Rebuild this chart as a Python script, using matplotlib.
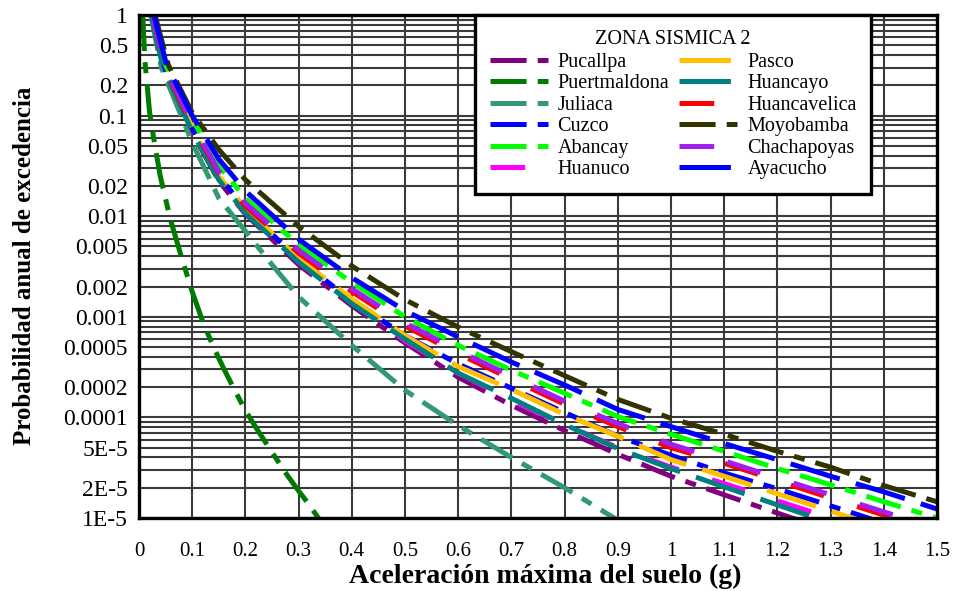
import matplotlib
matplotlib.use("Agg")
import matplotlib.pyplot as plt
import numpy as np
from matplotlib.ticker import FixedLocator, NullFormatter

plt.rcParams['font.family'] = ['Liberation Serif', 'DejaVu Serif']
plt.rcParams['lines.scale_dashes'] = False

# ---- hazard curves: peak ground acceleration (g) vs annual exceedance probability ----
x_pucallpa = [0.023, 0.044, 0.1, 0.15, 0.2, 0.3, 0.4, 0.5, 0.6, 0.7, 0.8, 0.9, 1.0, 1.1, 1.2, 1.3]
p_pucallpa = [1.0, 0.316, 0.068, 0.0224, 0.0105, 0.0033, 0.00129, 0.00055, 0.000251, 0.000132,
              7.4e-5, 4.3e-5, 2.6e-5, 1.7e-5, 1.12e-5, 7.4e-6]

x_puertmaldona = [0.007, 0.011, 0.02, 0.03, 0.04, 0.05, 0.06, 0.08, 0.1, 0.12, 0.14, 0.16, 0.18,
                  0.2, 0.22, 0.25, 0.28, 0.3, 0.32, 0.34]
p_puertmaldona = [1.0, 0.355, 0.107, 0.05, 0.025, 0.0148, 0.0089, 0.0039, 0.00178, 0.00089, 0.0005,
                  0.0003, 0.000186, 0.000117, 7.9e-5, 4.5e-5, 2.6e-5, 1.86e-5, 1.35e-5, 9.5e-6]

x_juliaca = [0.022, 0.042, 0.1, 0.15, 0.2, 0.25, 0.3, 0.4, 0.5, 0.6, 0.7, 0.8, 0.9]
p_juliaca = [1.0, 0.30, 0.054, 0.0151, 0.0071, 0.0033, 0.00158, 0.00052, 0.000186, 8.3e-5,
             4.0e-5, 2.0e-5, 9.5e-6]

x_cuzco = [0.024, 0.046, 0.1, 0.15, 0.2, 0.3, 0.4, 0.5, 0.6, 0.7, 0.8, 0.9, 1.0, 1.1, 1.2, 1.3, 1.4]
p_cuzco = [1.0, 0.316, 0.076, 0.025, 0.012, 0.0037, 0.00145, 0.00065, 0.00034, 0.000195,
           0.000112, 6.5e-5, 4.2e-5, 2.8e-5, 1.95e-5, 1.32e-5, 8.9e-6]

x_abancay = [0.027, 0.05, 0.1, 0.15, 0.2, 0.3, 0.4, 0.5, 0.6, 0.7, 0.8, 0.9, 1.0, 1.1, 1.2, 1.3, 1.4, 1.5]
p_abancay = [1.0, 0.316, 0.093, 0.0316, 0.0151, 0.0052, 0.0022, 0.001, 0.00052, 0.000295,
             0.000174, 0.000102, 6.8e-5, 4.6e-5, 3.1e-5, 2.14e-5, 1.45e-5, 1.0e-5]

x_huanuco = [0.024, 0.045, 0.1, 0.15, 0.2, 0.3, 0.4, 0.5, 0.6, 0.7, 0.8, 0.9, 1.0, 1.1, 1.2, 1.3, 1.4]
p_huanuco = [1.0, 0.316, 0.072, 0.024, 0.0112, 0.0035, 0.00138, 0.00058, 0.000275, 0.000148,
             8.5e-5, 5.0e-5, 3.2e-5, 2.2e-5, 1.48e-5, 1.0e-5, 6.8e-6]

x_pasco = [0.024, 0.046, 0.1, 0.15, 0.2, 0.3, 0.4, 0.5, 0.6, 0.7, 0.8, 0.9, 1.0, 1.1, 1.2, 1.3, 1.4]
p_pasco = [1.0, 0.316, 0.076, 0.025, 0.012, 0.0038, 0.00151, 0.00065, 0.00032, 0.00019,
           0.000107, 6.5e-5, 3.8e-5, 2.6e-5, 1.74e-5, 1.17e-5, 7.9e-6]

x_huancayo = [0.023, 0.044, 0.1, 0.15, 0.2, 0.3, 0.4, 0.5, 0.6, 0.7, 0.8, 0.9, 1.0, 1.1, 1.2, 1.3]
p_huancayo = [1.0, 0.316, 0.069, 0.023, 0.0107, 0.0035, 0.00135, 0.0006, 0.000275, 0.000155,
              8.5e-5, 4.9e-5, 3.1e-5, 2.04e-5, 1.35e-5, 8.9e-6]

x_huancavelica = [0.026, 0.048, 0.1, 0.15, 0.2, 0.3, 0.4, 0.5, 0.6, 0.7, 0.8, 0.9, 1.0, 1.1, 1.2, 1.3, 1.4, 1.5]
p_huancavelica = [1.0, 0.30, 0.079, 0.027, 0.0126, 0.0043, 0.00178, 0.00081, 0.00043, 0.00024,
                  0.000135, 8.1e-5, 5.0e-5, 3.5e-5, 2.35e-5, 1.58e-5, 1.07e-5, 7.4e-6]

x_moyobamba = [0.03, 0.055, 0.1, 0.15, 0.2, 0.3, 0.4, 0.5, 0.6, 0.7, 0.8, 0.9, 1.0, 1.1, 1.2, 1.3, 1.4, 1.5]
p_moyobamba = [1.0, 0.32, 0.107, 0.046, 0.023, 0.0079, 0.0032, 0.00148, 0.00079, 0.00045,
               0.00026, 0.000151, 9.8e-5, 6.8e-5, 4.6e-5, 3.2e-5, 2.1e-5, 1.45e-5]

x_chachapoyas = [0.026, 0.048, 0.1, 0.15, 0.2, 0.3, 0.4, 0.5, 0.6, 0.7, 0.8, 0.9, 1.0, 1.1, 1.2, 1.3, 1.4, 1.5]
p_chachapoyas = [1.0, 0.316, 0.083, 0.028, 0.0135, 0.0046, 0.0019, 0.00087, 0.00046, 0.000257,
                 0.000145, 8.7e-5, 5.4e-5, 3.7e-5, 2.5e-5, 1.7e-5, 1.15e-5, 7.9e-6]

x_ayacucho = [0.028, 0.052, 0.1, 0.15, 0.2, 0.3, 0.4, 0.5, 0.6, 0.7, 0.8, 0.9, 1.0, 1.1, 1.2, 1.3, 1.4, 1.5]
p_ayacucho = [1.0, 0.316, 0.1, 0.037, 0.0178, 0.0059, 0.00245, 0.00115, 0.00063, 0.000355,
              0.00021, 0.00012, 8.1e-5, 5.5e-5, 3.8e-5, 2.6e-5, 1.82e-5, 1.23e-5]

x_ticks = [0, 0.1, 0.2, 0.3, 0.4, 0.5, 0.6, 0.7, 0.8, 0.9, 1.0, 1.1, 1.2, 1.3, 1.4, 1.5]
x_tick_labels = ["0", "0.1", "0.2", "0.3", "0.4", "0.5", "0.6", "0.7", "0.8", "0.9",
                 "1", "1.1", "1.2", "1.3", "1.4", "1.5"]
y_ticks = [1, 0.5, 0.2, 0.1, 0.05, 0.02, 0.01, 0.005, 0.002, 0.001, 0.0005, 0.0002,
           0.0001, 5e-5, 2e-5, 1e-5]
y_tick_labels = ["1", "0.5", "0.2", "0.1", "0.05", "0.02", "0.01", "0.005", "0.002", "0.001",
                 "0.0005", "0.0002", "0.0001", "5E-5", "2E-5", "1E-5"]

# line styles (dash lengths in points)
DASH_LONG_SHORT = (0, (26, 8, 8, 8))
DASH_LONG = (0, (37, 12))
DASH_MEDIUM = (0, (25, 25))

series = [
    ("Pucallpa", x_pucallpa, p_pucallpa, "#800080", DASH_LONG_SHORT),
    ("Puertmaldona", x_puertmaldona, p_puertmaldona, "#007a00", DASH_LONG_SHORT),
    ("Juliaca", x_juliaca, p_juliaca, "#339970", DASH_LONG_SHORT),
    ("Cuzco", x_cuzco, p_cuzco, "#0000ff", DASH_LONG_SHORT),
    ("Abancay", x_abancay, p_abancay, "#00ff00", DASH_LONG_SHORT),
    ("Huanuco", x_huanuco, p_huanuco, "#ff00ff", DASH_MEDIUM),
    ("Pasco", x_pasco, p_pasco, "#ffc000", DASH_LONG),
    ("Huancayo", x_huancayo, p_huancayo, "#008080", DASH_LONG),
    ("Huancavelica", x_huancavelica, p_huancavelica, "#ff0000", DASH_MEDIUM),
    ("Moyobamba", x_moyobamba, p_moyobamba, "#333300", DASH_LONG_SHORT),
    ("Chachapoyas", x_chachapoyas, p_chachapoyas, "#a020f0", DASH_MEDIUM),
    ("Ayacucho", x_ayacucho, p_ayacucho, "#0000ff", DASH_LONG),
]

fig = plt.figure(figsize=(9.57, 5.91), dpi=100)
W, H = 957, 591
ax = fig.add_axes([139 / W, 73 / H, (937 - 139) / W, (518 - 15) / H])

ax.set_yscale("log")
ax.set_xlim(0, 1.5)
ax.set_ylim(1e-5, 1)

# grid: every 0.1 g vertically, every log sub-division horizontally
ax.set_xticks(x_ticks)
ax.set_xticklabels(x_tick_labels)
ax.yaxis.set_major_locator(FixedLocator(y_ticks))
ax.set_yticklabels(y_tick_labels)
minor_y = [m * 10.0 ** e for e in range(-5, 0) for m in range(1, 10)]
ax.yaxis.set_minor_locator(FixedLocator(minor_y))
ax.yaxis.set_minor_formatter(NullFormatter())
ax.grid(True, which="major", axis="x", color="#3a3a3a", lw=1.5)
ax.grid(True, which="both", axis="y", color="#3a3a3a", lw=1.5)
ax.set_axisbelow(True)

ax.tick_params(axis="both", which="both", length=0)
ax.tick_params(axis="x", labelsize=15, pad=17)
ax.tick_params(axis="y", labelsize=17, pad=8)

for s in ax.spines.values():
    s.set_linewidth(2.4)
    s.set_color("black")

handles = []
for name, xs, ps, color, ls in series:
    ln, = ax.plot(xs, ps, color=color, lw=3.6, linestyle=ls, label=name,
                  solid_capstyle="butt", dash_capstyle="butt")
    handles.append(ln)

leg = ax.legend(handles=handles, ncol=2, title="ZONA SISMICA 2",
                loc="upper left", bbox_to_anchor=(475 / W, 1 - 15 / H),
                bbox_transform=fig.transFigure, borderaxespad=0,
                fontsize=14.5, title_fontsize=14.5, handlelength=2.88,
                handletextpad=0.5, columnspacing=0.5, labelspacing=0.12,
                borderpad=0.72, fancybox=False, framealpha=1, edgecolor="black")
leg.get_frame().set_linewidth(2.4)
leg._legend_box.sep = 3

fig.text(25 / W, 1 - 266 / H, "Probabilidad anual de excedencia", rotation=90,
         ha="center", va="center", fontsize=18, fontweight="bold")
fig.text(545 / W, 1 - 576 / H, "Aceleración máxima del suelo (g)",
         ha="center", va="center", fontsize=20, fontweight="bold")

fig.savefig("out.png", dpi=100, facecolor="white")
